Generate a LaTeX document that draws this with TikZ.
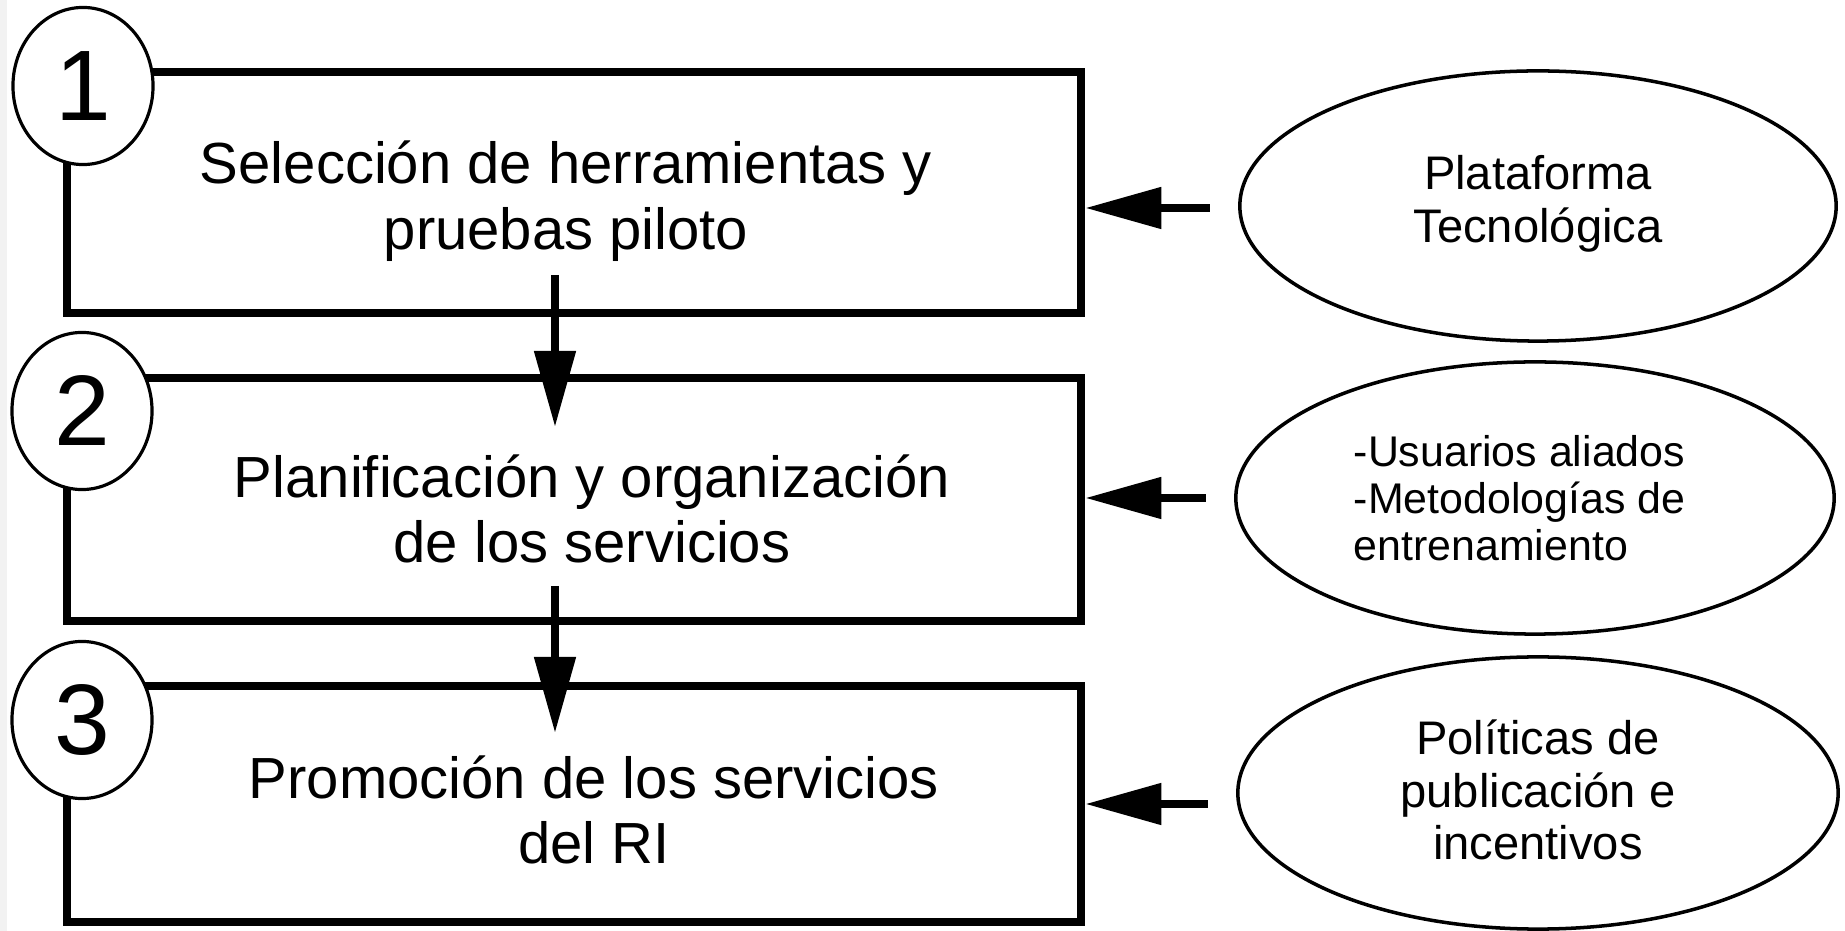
\documentclass[tikz,border=0pt]{standalone}
\usepackage{fontspec}
\setmainfont{Liberation Sans}
\usetikzlibrary{arrows.meta,shapes.geometric}
\begin{document}
\begin{tikzpicture}[x=0.01cm,y=-0.01cm,
  stepbox/.style={draw,line width=2.28pt,rectangle,inner sep=0pt},
  numcirc/.style={draw,fill=white,ellipse,line width=0.9pt,inner sep=0pt,
    minimum width=1.40cm,minimum height=1.57cm,font=\fontsize{28.5pt}{30pt}\selectfont},
  infoell/.style={draw,ellipse,line width=1.0pt,inner sep=0pt},
  boxtext/.style={align=center,inner sep=0pt,font=\fontsize{16.5pt}{18.6pt}\selectfont},
  elltext/.style={align=center,inner sep=0pt,font=\fontsize{13.4pt}{14.9pt}\selectfont},
  elltextsmall/.style={align=left,inner sep=0pt,font=\fontsize{12.2pt}{13.4pt}\selectfont},
  arr/.style={line width=2.3pt,-{Triangle[length=0.76cm,width=0.40cm]}}
]
\useasboundingbox (0,0) rectangle (1845,931);
\fill[gray!10] (0,0) rectangle (7,931);

% boxes
\node[stepbox,minimum width=10.14cm,minimum height=2.41cm] (b1) at (574,192.5) {};
\node[stepbox,minimum width=10.14cm,minimum height=2.43cm] (b2) at (574,499.5) {};
\node[stepbox,minimum width=10.14cm,minimum height=2.36cm] (b3) at (574,804) {};

% box texts
\node[boxtext] (t1) at (566,201) {Selección de herramientas y\\pruebas piloto};
\node[boxtext] (t2) at (592,509) {Planificación y organización\\de los servicios};
\node[boxtext] (t3) at (594,810) {Promoción de los servicios\\del RI};

% number circles
\node[numcirc] (c1) at (83,86) {1};
\node[numcirc] (c2) at (82,411) {2};
\node[numcirc] (c3) at (82,720) {3};

% ellipses
\node[infoell,minimum width=5.96cm,minimum height=2.70cm] (e1) at (1538,206) {};
\node[infoell,minimum width=5.98cm,minimum height=2.72cm] (e2) at (1535,498) {};
\node[infoell,minimum width=6.00cm,minimum height=2.72cm] (e3) at (1538,793) {};

\node[elltext] (et1) at (1538,204) {Plataforma\\Tecnológica};
\node[elltextsmall,anchor=west] (et2) at (1353,498) {-Usuarios aliados\\-Metodologías de\\entrenamiento};
\node[elltext] (et3) at (1538,790) {Políticas de\\publicación e\\incentivos};

% horizontal arrows
\draw[arr] ([xshift=-8]e1.west |- 0,208) -- (b1.east |- 0,208);
\draw[arr] ([xshift=-8]e2.west) -- (b2.east |- e2.west);
\draw[arr] ([xshift=-8]e3.west |- 0,804) -- (b3.east |- 0,804);

% vertical arrows
\coordinate (v1s) at (555,275);
\coordinate (v1e) at (555,427);
\coordinate (v2s) at (555,586);
\coordinate (v2e) at (555,733);
\draw[arr] (v1s) -- (v1e);
\draw[arr] (v2s) -- (v2e);
\end{tikzpicture}
\end{document}
